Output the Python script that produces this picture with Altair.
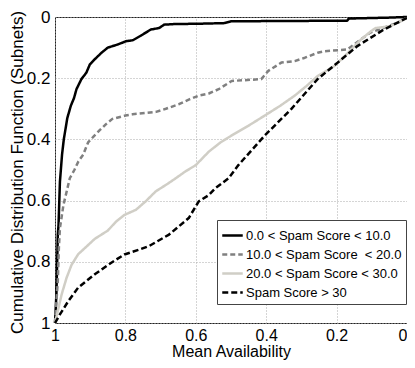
import altair as alt
import pandas as pd

labels = [
    "0.0 < Spam Score < 10.0",
    "10.0 < Spam Score \u00a0< 20.0",
    "20.0 < Spam Score < 30.0",
    "Spam Score > 30",
]
colors = ["#000000", "#808080", "#d0cec6", "#000000"]
dashes = [[1, 0], [5, 3], [1, 0], [6, 3]]

s1_x = [1.0, 0.996, 0.992, 0.99, 0.986, 0.98, 0.975, 0.965, 0.955, 0.946, 0.939, 0.925, 0.911, 0.901,
        0.887, 0.868, 0.85, 0.822, 0.798, 0.779, 0.756, 0.728, 0.704, 0.69, 0.66, 0.59, 0.52, 0.50,
        0.17, 0.165, 0.05, 0.0]
s1_y = [1.0, 0.906, 0.71, 0.68, 0.538, 0.45, 0.40, 0.33, 0.29, 0.265, 0.236, 0.203, 0.182, 0.155,
        0.138, 0.117, 0.10, 0.09, 0.079, 0.076, 0.061, 0.041, 0.036, 0.025, 0.023, 0.022, 0.02, 0.014,
        0.012, 0.005, 0.002, 0.0]

s2_x = [1.0, 0.992, 0.989, 0.986, 0.976, 0.967, 0.958, 0.945, 0.934, 0.92, 0.906, 0.89, 0.873, 0.855,
        0.837, 0.80, 0.78, 0.713, 0.685, 0.648, 0.62, 0.592, 0.563, 0.535, 0.498, 0.414, 0.394, 0.357,
        0.319, 0.29, 0.254, 0.234, 0.169, 0.132, 0.104, 0.065, 0.028, 0.0]
s2_y = [1.0, 0.862, 0.755, 0.69, 0.614, 0.571, 0.527, 0.50, 0.473, 0.45, 0.41, 0.39, 0.37, 0.35,
        0.333, 0.322, 0.318, 0.31, 0.30, 0.285, 0.27, 0.257, 0.25, 0.236, 0.209, 0.203, 0.176, 0.149,
        0.144, 0.133, 0.117, 0.112, 0.106, 0.074, 0.051, 0.035, 0.019, 0.003]

s3_x = [1.0, 0.992, 0.981, 0.967, 0.953, 0.934, 0.915, 0.887, 0.85, 0.826, 0.803, 0.77, 0.742, 0.714,
        0.68, 0.657, 0.63, 0.6, 0.563, 0.53, 0.498, 0.45, 0.404, 0.36, 0.319, 0.285, 0.254, 0.206,
        0.17, 0.131, 0.103, 0.089, 0.047, 0.0]
s3_y = [1.0, 0.96, 0.906, 0.852, 0.81, 0.775, 0.755, 0.725, 0.698, 0.668, 0.647, 0.63, 0.602, 0.57,
        0.545, 0.527, 0.505, 0.484, 0.44, 0.41, 0.387, 0.355, 0.322, 0.29, 0.257, 0.225, 0.193, 0.16,
        0.12, 0.074, 0.047, 0.036, 0.03, 0.003]

s4_x = [1.0, 0.986, 0.962, 0.934, 0.887, 0.84, 0.803, 0.76, 0.732, 0.676, 0.62, 0.592, 0.563, 0.545,
        0.507, 0.479, 0.404, 0.329, 0.254, 0.197, 0.141, 0.066, 0.0]
s4_y = [1.0, 0.972, 0.928, 0.884, 0.841, 0.803, 0.776, 0.76, 0.748, 0.711, 0.657, 0.603, 0.582, 0.56,
        0.527, 0.484, 0.387, 0.301, 0.203, 0.149, 0.095, 0.041, 0.003]

tick_values = [0, 0.2, 0.4, 0.6, 0.8, 1]

rows = []
for lab, xs, ys in zip(labels, [s1_x, s2_x, s3_x, s4_x], [s1_y, s2_y, s3_y, s4_y]):
    for i, (a, c) in enumerate(zip(xs, ys)):
        rows.append({"series": lab, "avail": a, "cdf": c, "idx": i})
df = pd.DataFrame(rows)

FONT = "Liberation Sans"

legend = alt.Legend(
    title=None,
    orient="none",
    legendX=162,
    legendY=203,
    symbolType="stroke",
    symbolSize=420,
    symbolStrokeWidth=2.5,
    labelFontSize=13,
    labelFont=FONT,
    labelColor="#000",
    labelOffset=2,
    rowPadding=0,
    padding=4,
    strokeColor="#444",
    fillColor="#ffffff",
    labelLimit=300,
)

chart = alt.Chart(df).mark_line(strokeWidth=2.5, strokeJoin="round").encode(
    x=alt.X(
        "avail:Q",
        scale=alt.Scale(domain=[0, 1], reverse=True, nice=False, zero=False),
        axis=alt.Axis(
            values=tick_values, format="~g", title="Mean Availability",
            titleX=176, titleY=33, titleBaseline="alphabetic", titleAlign="center",
            titleFontSize=16,
            labelPadding=4, labelFontSize=16,
            labelAlign={"expr": "datum.value == 0 ? 'right' : 'center'"},
        ),
    ),
    y=alt.Y(
        "cdf:Q",
        scale=alt.Scale(domain=[0, 1], reverse=True, nice=False, zero=False),
        axis=alt.Axis(
            values=tick_values, format="~g", title="Cumulative Distribution Function (Subnets)",
            titleX=-33, titleY=155, titleAngle=270, titleBaseline="alphabetic", titleAlign="center",
            labelPadding=5,
        ),
    ),
    color=alt.Color("series:N", scale=alt.Scale(domain=labels, range=colors), legend=legend),
    strokeDash=alt.StrokeDash("series:N", scale=alt.Scale(domain=labels, range=dashes), legend=legend),
    order="idx:Q",
).properties(
    width=352,
    height=306,
    autosize="none",
    padding={"left": 47, "top": 9, "right": 0, "bottom": 37},
).configure_view(
    stroke="#222", strokeWidth=1
).configure_axis(
    domain=False,
    ticks=False,
    grid=True,
    gridColor="#aaaaaa",
    gridDash=[1, 2],
    gridWidth=1,
    labelFont=FONT,
    labelFontSize=17,
    labelColor="#000",
    titleFont=FONT,
    titleFontSize=17,
    titleFontWeight="normal",
    titleColor="#000",
)

chart.save("out.html", embed_options={"renderer": "svg", "actions": False})
